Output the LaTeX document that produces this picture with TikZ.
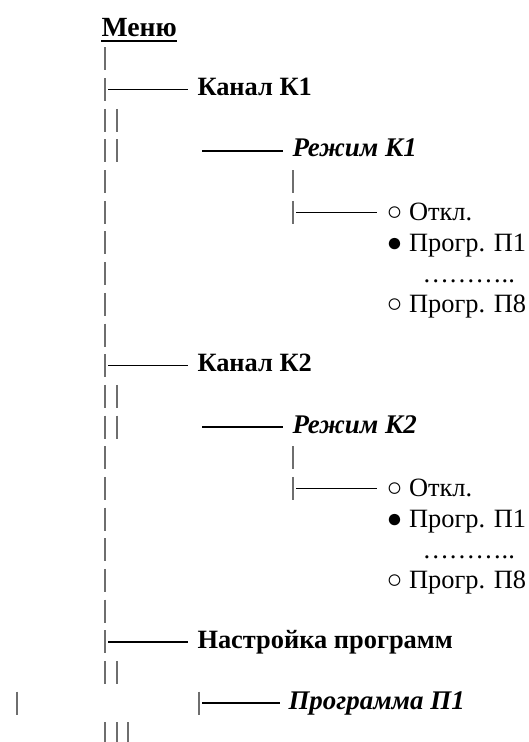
\documentclass[tikz,border=0pt]{standalone}
\usepackage{fontspec}
\setmainfont{Liberation Serif}

\tikzset{every picture/.style={line width=0.75pt}}
\tikzset{
  treebar/.style={draw={rgb,255:red,110;green,110;blue,110}, line width=1.1pt},
  branch/.style={line width=1.2pt},
  item/.style={anchor=base west, inner sep=0pt, font=\fontsize{19.8}{22}\selectfont},
  head/.style={item, font=\fontsize{19.8}{22}\selectfont\bfseries},
  mode/.style={item, font=\fontsize{20.2}{22}\selectfont\bfseries\itshape},
}
\newcommand{\rowy}[1]{28.3+30.67*#1}

\begin{document}
\begin{tikzpicture}[x=0.75pt,y=0.75pt,yscale=-1,xscale=1]
\useasboundingbox (0,0) rectangle (528,742);

%Vertical bars of the menu tree
\foreach \k in {1,...,21}
  \draw[treebar] (105,{\rowy{\k}-11.5}) -- ++(0,23);
\foreach \x/\k in {117/3,117/4,117/12,117/13,117/21,293/5,293/6,293/14,293/15,17/22,199/22,105/23,117/23,128/23}
  \draw[treebar] (\x,{\rowy{\k}-11.5}) -- ++(0,23);

% Text Node
\node[head, font=\fontsize{20.8}{22}\selectfont\bfseries] (menu) at (101,{\rowy{0}+8.7}) {Меню};
\draw[line width=1.5pt] ([yshift=3pt]menu.base west) -- ([yshift=3pt]menu.base east);

%Channel K1
\coordinate (k1) at (108,{\rowy{2}});
\node[head] (kanal1) at (197,{\rowy{2}+6.3}) {Канал К1};
\draw[branch, shorten >=7pt] (k1) -- (k1 -| kanal1.west);
\coordinate (m1) at (202,{\rowy{4}});
\node[mode] (mode1) at (292,{\rowy{4}+6}) {Режим К1};
\draw[branch, shorten >=7pt] (m1) -- (m1 -| mode1.west);
\coordinate (o1) at (296,{\rowy{6}});
\node[item] (off1) at (386,{\rowy{6}+8.5}) {○ Откл.};
\draw[branch, shorten >=7pt] (o1) -- (o1 -| off1.west);
\node[item] (pa1) at (386,{\rowy{7}+8.5}) {● Прогр. П1};
\node[item] (dots1) at (422,{\rowy{8}+8.5}) {………..};
\node[item] (pb1) at (386,{\rowy{9}+8.5}) {○ Прогр. П8};

%Channel K2
\coordinate (k2) at (108,{\rowy{11}});
\node[head] (kanal2) at (197,{\rowy{11}+6.3}) {Канал К2};
\draw[branch, shorten >=7pt] (k2) -- (k2 -| kanal2.west);
\coordinate (m2) at (202,{\rowy{13}});
\node[mode] (mode2) at (292,{\rowy{13}+6}) {Режим К2};
\draw[branch, shorten >=7pt] (m2) -- (m2 -| mode2.west);
\coordinate (o2) at (296,{\rowy{15}});
\node[item] (off2) at (386,{\rowy{15}+8.5}) {○ Откл.};
\draw[branch, shorten >=7pt] (o2) -- (o2 -| off2.west);
\node[item] (pa2) at (386,{\rowy{16}+8.5}) {● Прогр. П1};
\node[item] (dots2) at (422,{\rowy{17}+8.5}) {………..};
\node[item] (pb2) at (386,{\rowy{18}+8.5}) {○ Прогр. П8};

%Program setup
\coordinate (s1) at (108,{\rowy{20}});
\node[head] (setup) at (197,{\rowy{20}+6.3}) {Настройка программ};
\draw[branch, shorten >=7pt] (s1) -- (s1 -| setup.west);
\coordinate (s2) at (202,{\rowy{22}});
\node[mode] (prog1) at (288,{\rowy{22}+6.5}) {Программа П1};
\draw[branch, shorten >=6pt] (s2) -- (s2 -| prog1.west);

\end{tikzpicture}
\end{document}
